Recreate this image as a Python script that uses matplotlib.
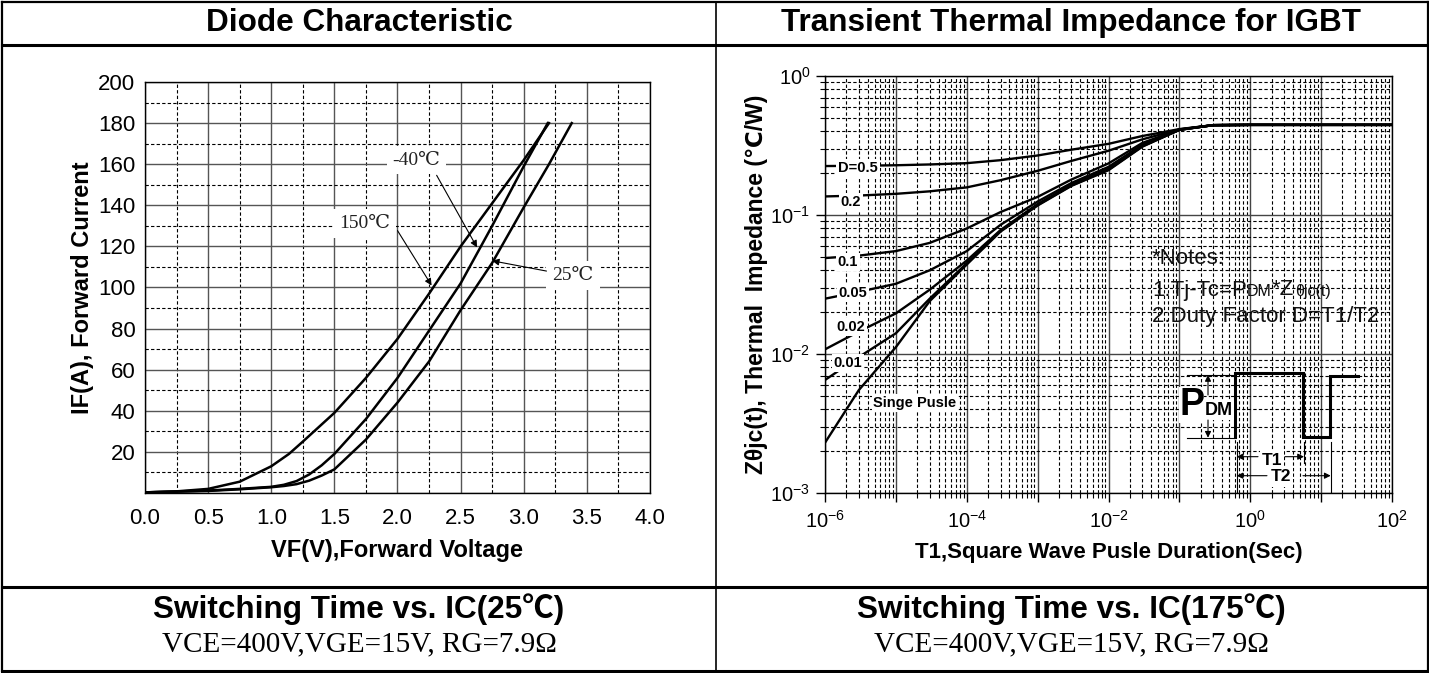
import numpy as np
import matplotlib
matplotlib.use('Agg')
import matplotlib.pyplot as plt
from matplotlib.lines import Line2D
from matplotlib.ticker import MultipleLocator, FixedLocator, FuncFormatter, LogLocator, NullFormatter

SANS = ['Liberation Sans', 'DejaVu Sans', 'Noto Sans CJK SC']
TSANS = ['Liberation Sans', 'Noto Sans CJK SC', 'DejaVu Sans']
SERIF = ['Liberation Serif', 'DejaVu Serif', 'Noto Sans CJK SC']
plt.rcParams['font.family'] = SANS
plt.rcParams['mathtext.fontset'] = 'custom'
plt.rcParams['mathtext.rm'] = 'Liberation Sans'
plt.rcParams['mathtext.it'] = 'Liberation Sans:italic'
plt.rcParams['mathtext.bf'] = 'Liberation Sans:bold'

# ---------------- data: diode characteristic ----------------
vf_150 = [0.0, 0.25, 0.5, 0.75, 1.0, 1.14, 1.25, 1.5, 1.75, 2.0, 2.25, 2.5, 2.75, 3.0, 3.2]
if_150 = [0.3, 0.8, 2.0, 5.5, 13, 19, 25, 39, 56, 75, 97, 120, 141, 162, 180]
vf_m40 = [0.0, 0.5, 0.75, 1.0, 1.1, 1.2, 1.3, 1.4, 1.5, 1.75, 2.0, 2.25, 2.5, 2.75, 3.0, 3.19]
if_m40 = [0.3, 1.2, 2.0, 3.0, 4.0, 5.8, 9.0, 13.5, 19, 36, 56, 79, 102, 130, 159, 180]
vf_25 = [0.0, 0.5, 0.75, 1.0, 1.1, 1.2, 1.3, 1.4, 1.5, 1.75, 2.0, 2.25, 2.5, 2.75, 3.0, 3.2, 3.38]
if_25 = [0.3, 1.0, 1.8, 2.8, 3.4, 4.3, 6.0, 8.5, 11.5, 26, 44, 64, 89, 112, 139, 160, 180]
vf_ticks = [0.0, 0.5, 1.0, 1.5, 2.0, 2.5, 3.0, 3.5, 4.0]
if_ticks = [20, 40, 60, 80, 100, 120, 140, 160, 180, 200]

# ---------------- data: transient thermal impedance ----------------
t1 = [1e-6, 3e-6, 1e-5, 3e-5, 1e-4, 3e-4, 1e-3, 3e-3, 1e-2, 3e-2, 1e-1, 3e-1, 1, 10, 100]
z_d05 = [0.225, 0.226, 0.228, 0.231, 0.236, 0.248, 0.268, 0.295, 0.325, 0.37, 0.415, 0.443, 0.445, 0.445, 0.445]
z_d02 = [0.136, 0.138, 0.142, 0.148, 0.158, 0.178, 0.208, 0.245, 0.29, 0.35, 0.413, 0.443, 0.445, 0.445, 0.445]
z_d01 = [0.049, 0.051, 0.055, 0.063, 0.080, 0.105, 0.135, 0.18, 0.235, 0.33, 0.412, 0.443, 0.445, 0.445, 0.445]
z_d005 = [0.025, 0.028, 0.032, 0.040, 0.055, 0.085, 0.125, 0.17, 0.222, 0.32, 0.41, 0.443, 0.445, 0.445, 0.445]
z_d002 = [0.0108, 0.0145, 0.0196, 0.029, 0.047, 0.078, 0.12, 0.165, 0.215, 0.315, 0.41, 0.443, 0.445, 0.445, 0.445]
z_d001 = [0.0065, 0.0095, 0.0141, 0.025, 0.045, 0.077, 0.118, 0.163, 0.212, 0.312, 0.41, 0.443, 0.445, 0.445, 0.445]
z_single = [0.0023, 0.0055, 0.0112, 0.024, 0.044, 0.076, 0.117, 0.162, 0.21, 0.31, 0.41, 0.443, 0.445, 0.445, 0.445]
curve_labels = ['D=0.5', '0.2', '0.1', '0.05', '0.02', '0.01', 'Singe Pusle']
label_pos = [(10**-5.535, 10**-0.662), (10**-5.634, 10**-0.906), (10**-5.676, 10**-1.338),
             (10**-5.606, 10**-1.561), (10**-5.634, 10**-1.806), (10**-5.676, 10**-2.065),
             (10**-4.732, 10**-2.353)]

W, H = 1429, 673
fig = plt.figure(figsize=(W / 100, H / 100), dpi=100)


def fx(x):
    return x / W


def fy(y):
    return 1 - y / H


def fline(xs, ys, lw):
    fig.add_artist(Line2D([fx(v) for v in xs], [fy(v) for v in ys], color='k', lw=lw,
                          transform=fig.transFigure, solid_capstyle='projecting'))


# table frame
fline([1.5, 1427.5], [1.5, 1.5], 1.6)
fline([1.5, 1427.5], [670.5, 670.5], 2.2)
fline([1.5, 1.5], [1.5, 670.5], 1.6)
fline([1427.5, 1427.5], [1.5, 670.5], 1.6)
fline([716, 716], [1.5, 670.5], 1.2)
fline([1.5, 1427.5], [45, 45], 2.2)
fline([1.5, 1427.5], [587, 587], 2.2)

TS = 22.7
fig.text(fx(359), fy(23), 'Diode Characteristic', ha='center', va='center', fontsize=TS, fontweight='bold')
fig.text(fx(1071), fy(23), 'Transient Thermal Impedance for IGBT', ha='center', va='center', fontsize=TS,
         fontweight='bold')
fig.text(fx(359), fy(609), 'Switching Time vs. IC(25℃)', ha='center', va='center', fontsize=TS,
         fontweight='bold', family=TSANS)
fig.text(fx(1071), fy(609), 'Switching Time vs. IC(175℃)', ha='center', va='center', fontsize=TS,
         fontweight='bold', family=TSANS)
fig.text(fx(359), fy(644), 'VCE=400V,VGE=15V, RG=7.9Ω', ha='center', va='center', fontsize=21, family=SERIF)
fig.text(fx(1071), fy(644), 'VCE=400V,VGE=15V, RG=7.9Ω', ha='center', va='center', fontsize=21, family=SERIF)

# ---------------- left: diode ----------------
ax1 = fig.add_axes([fx(145), fy(493), (650 - 145) / W, (493 - 82) / H])
ax1.set_xlim(0, 4)
ax1.set_ylim(0, 200)
ax1.xaxis.set_major_locator(FixedLocator(vf_ticks))
ax1.xaxis.set_minor_locator(MultipleLocator(0.25))
ax1.yaxis.set_major_locator(FixedLocator([0] + if_ticks))
ax1.yaxis.set_minor_locator(MultipleLocator(10))
ax1.xaxis.set_major_formatter(FuncFormatter(lambda v, p: f'{v:.1f}'))
ax1.yaxis.set_major_formatter(FuncFormatter(lambda v, p: '' if v == 0 else f'{int(v)}'))
ax1.tick_params(which='both', length=0)
ax1.tick_params(axis='x', pad=11, labelsize=16)
ax1.tick_params(axis='y', pad=7, labelsize=16)
ax1.grid(which='major', color='#555555', lw=1.0, ls='-')
ax1.grid(which='minor', color='black', lw=0.8, ls=(0, (3, 2)))
ax1.set_axisbelow(True)
for s in ax1.spines.values():
    s.set_linewidth(1.0)
ax1.plot(vf_150, if_150, color='black', lw=1.8, zorder=3)
ax1.plot(vf_m40, if_m40, color='black', lw=1.8, zorder=3)
ax1.plot(vf_25, if_25, color='black', lw=1.8, zorder=3)
ax1.set_xlabel('VF(V),Forward Voltage', fontsize=17, fontweight='bold', labelpad=7)
ax1.set_ylabel('IF(A), Forward Current', fontsize=17, fontweight='bold')
ax1.yaxis.set_label_coords(-0.10, 0.5)

box = dict(boxstyle='square,pad=0.3', fc='white', ec='none')
arr = dict(arrowstyle='-|>', lw=0.8, color='black', mutation_scale=10, shrinkA=0, shrinkB=0)
ax1.text(2.15, 162, '-40℃', ha='center', va='center', fontsize=14, family=SERIF, color='#222222',
         bbox=box, zorder=4)
ax1.annotate('', xy=(2.63, 119.5), xytext=(2.31, 154.6), arrowprops=arr, zorder=5)
ax1.text(1.74, 131, '150℃', ha='center', va='center', fontsize=14, family=SERIF, color='#222222',
         bbox=box, zorder=4)
ax1.annotate('', xy=(2.27, 101), xytext=(2.0, 127.7), arrowprops=arr, zorder=5)
ax1.text(3.39, 106, '25℃', ha='center', va='center', fontsize=14, family=SERIF, color='#222222',
         bbox=box, zorder=4)
ax1.annotate('', xy=(2.75, 113), xytext=(3.18, 108), arrowprops=arr, zorder=5)

# ---------------- right: thermal impedance ----------------
ax2 = fig.add_axes([fx(825), fy(493), (1392 - 825) / W, (493 - 76) / H])
ax2.set_xscale('log')
ax2.set_yscale('log')
ax2.set_xlim(1e-6, 1e2)
ax2.set_ylim(1e-3, 1e0)
ax2.xaxis.set_major_locator(LogLocator(base=10, numticks=20))
ax2.xaxis.set_minor_locator(LogLocator(base=10, subs=np.arange(2, 10), numticks=20))
ax2.yaxis.set_major_locator(LogLocator(base=10, numticks=20))
ax2.yaxis.set_minor_locator(LogLocator(base=10, subs=np.arange(2, 10), numticks=20))


def xfmt(v, p):
    k = int(round(np.log10(v)))
    return f'$10^{{{k}}}$' if k % 2 == 0 else ''


ax2.xaxis.set_major_formatter(FuncFormatter(xfmt))
ax2.yaxis.set_major_formatter(FuncFormatter(lambda v, p: f'$10^{{{int(round(np.log10(v)))}}}$'))
ax2.xaxis.set_minor_formatter(NullFormatter())
ax2.yaxis.set_minor_formatter(NullFormatter())
ax2.tick_params(which='major', direction='out', length=6.5, width=1.0, labelsize=14.5)
ax2.tick_params(which='minor', direction='out', length=3.5, width=0.8)
ax2.tick_params(axis='x', which='major', pad=6)
ax2.tick_params(axis='y', which='major', pad=4)
ax2.grid(which='major', color='#444444', lw=1.0, ls='-')
ax2.grid(which='minor', color='black', lw=0.8, ls=(0, (3, 2)))
ax2.set_axisbelow(True)
for s in ax2.spines.values():
    s.set_linewidth(1.0)
for z in [z_d05, z_d02, z_d01, z_d005, z_d002, z_d001, z_single]:
    ax2.plot(t1, z, color='black', lw=1.7, zorder=3)
lbox = dict(boxstyle='square,pad=0.12', fc='white', ec='none')
for lab, (lx, ly) in zip(curve_labels, label_pos):
    ax2.text(lx, ly, lab, ha='center', va='center', fontsize=10.5, fontweight='bold', bbox=lbox, zorder=4)

ax2.set_xlabel('T1,Square Wave Pusle Duration(Sec)', fontsize=16, fontweight='bold', labelpad=7)
ax2.set_ylabel('Zθjc(t), Thermal  Impedance (℃/W)', fontsize=16.5, fontweight='bold')
ax2.yaxis.set_label_coords(-0.1, 0.5)

# notes
ta = ax2.transAxes
NS = 16
ax2.text(0.5767, 0.5635, '*Notes:', transform=ta, fontsize=NS, va='center', ha='left', color='#111111', zorder=4)
t_a = ax2.text(0.5767, 0.4868, '1.Tj-Tc=P', transform=ta, fontsize=NS, va='center', ha='left', color='#111111',
               zorder=4)
t_b = ax2.annotate('DM', xy=(1, 0), xycoords=t_a, xytext=(0, 3.3), textcoords='offset points', fontsize=11.5,
                   va='baseline', ha='left', color='#111111', zorder=4)
t_c = ax2.annotate('*Z', xy=(1, 0), xycoords=t_b, xytext=(0, 2.5), textcoords='offset points', fontsize=NS,
                   va='baseline', ha='left', color='#111111', zorder=4)
ax2.annotate('θjc(t)', xy=(1, 0), xycoords=t_c, xytext=(0.5, 3.3), textcoords='offset points', fontsize=11.5,
             va='baseline', ha='left', color='#111111', zorder=4)
ax2.text(0.5767, 0.4221, '2.Duty Factor D=T1/T2', transform=ta, fontsize=NS, va='center', ha='left',
         color='#111111', zorder=4)

# pulse diagram (axes-fraction coordinates)
ax2.plot([0.7231, 0.7231, 0.8430, 0.8430, 0.8907, 0.8907, 0.9400],
         [0.1343, 0.2878, 0.2878, 0.1343, 0.1343, 0.2806, 0.2806], transform=ta, color='black', lw=2.2,
         zorder=4, solid_joinstyle='miter')
ax2.plot([0.6384, 0.7231], [0.2830, 0.2830], transform=ta, color='black', lw=0.8, zorder=4)
ax2.plot([0.6384, 0.7231], [0.1326, 0.1326], transform=ta, color='black', lw=0.8, zorder=4)
for xx, y0, y1 in [(0.7261, 0.123, 0.0), (0.8448, 0.123, 0.072), (0.8919, 0.123, 0.0)]:
    ax2.plot([xx, xx], [y0, y1], transform=ta, color='black', lw=0.8, zorder=4)
ax2.text(0.6250, 0.187, 'P', transform=ta, fontsize=27, fontweight='bold', ha='left', va='baseline', zorder=5,
         bbox=dict(boxstyle='square,pad=0.0', fc='white', ec='none'))
ax2.text(0.6700, 0.187, 'DM', transform=ta, fontsize=13, fontweight='bold', ha='left', va='baseline', zorder=5,
         bbox=dict(boxstyle='square,pad=0.05', fc='white', ec='none'))
arr2 = dict(arrowstyle='-|>', lw=0.8, color='black', mutation_scale=9, shrinkA=0, shrinkB=0)
for (x0, y0), (x1, y1) in [((0.6755, 0.235), (0.6755, 0.283)), ((0.6755, 0.175), (0.6755, 0.1326)),
                           ((0.7637, 0.0871), (0.7261, 0.0871)), ((0.8113, 0.0871), (0.8448, 0.0871)),
                           ((0.7795, 0.0415), (0.7261, 0.0415)), ((0.8430, 0.0415), (0.8919, 0.0415))]:
    ax2.annotate('', xy=(x1, y1), xycoords=ta, xytext=(x0, y0), textcoords=ta, arrowprops=arr2, zorder=5)
ax2.text(0.7884, 0.0791, 'T1', transform=ta, fontsize=12.5, fontweight='bold', ha='center', va='center', zorder=5,
         bbox=lbox)
ax2.text(0.8042, 0.0384, 'T2', transform=ta, fontsize=12.5, fontweight='bold', ha='center', va='center', zorder=5,
         bbox=lbox)

fig.savefig('out.png', dpi=100)
